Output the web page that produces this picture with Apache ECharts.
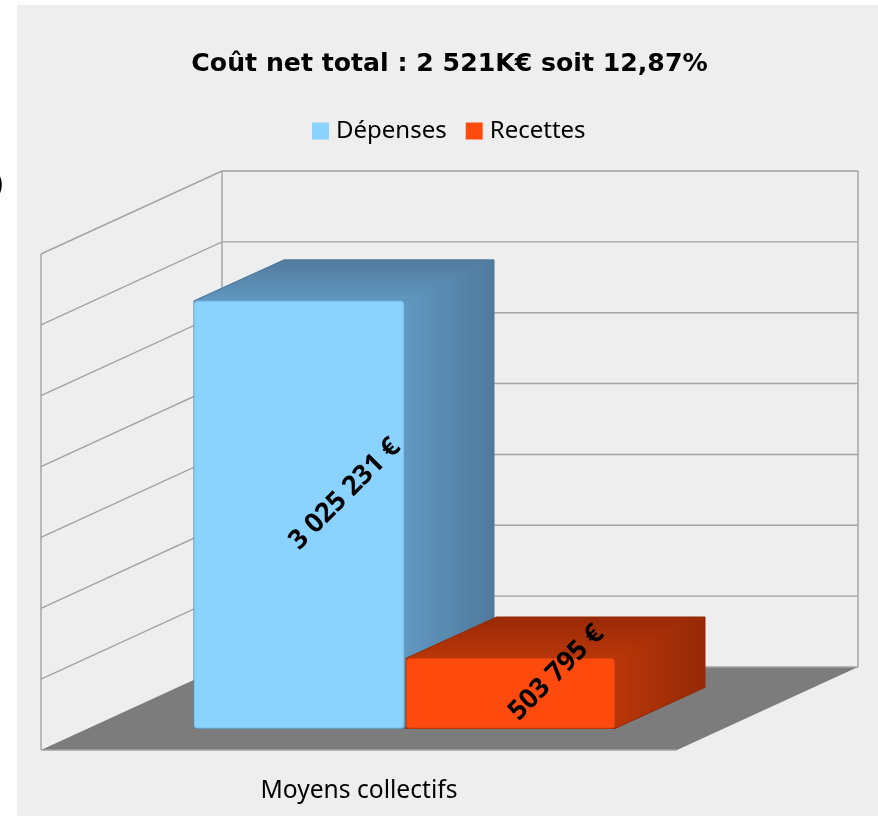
<!DOCTYPE html>
<html><head><meta charset="utf-8">
<style>html,body{margin:0;padding:0;background:#fff}#c{width:878px;height:816px}</style>
<script src="https://cdn.jsdelivr.net/npm/echarts@6/dist/echarts.min.js"></script>
</head><body><div id="c"></div>
<script>
var chartTitle = 'Coût net total : 2 521K€ soit 12,87%';
var categories = ['Moyens collectifs'];
var seriesNames = ['Dépenses', 'Recettes'];
var depenses = [3025231];
var recettes = [503795];
var tickValues = [0, 500000, 1000000, 1500000, 2000000, 2500000, 3000000, 3500000];
var axisMax = 3500000;
var axisInterval = 500000;

var FONT = '"Noto Sans"';
var TITLE_FONT = '"DejaVu Sans"';
var DX = 181, DY = 83;             // depth of the box
var BAR_DX = 90, BAR_DY = 41;      // depth of a bar
var OFF_DY = 22;                   // gap between box front and bar front
var BAR_W = [209, 208];
var BAR_X = [153.5, 365.5];        // front-left of each bar from the grid's left edge
var INSET = 2;
var GRID_LINE = '#a3a3a3';

function fmt(v) { return String(v).replace(/\B(?=(\d{3})+$)/g, ' ') + ' €'; }
function lg(x, y, x2, y2, a, b) {
  return new echarts.graphic.LinearGradient(x, y, x2, y2, [{offset: 0, color: a}, {offset: 1, color: b}]);
}

function renderWall(params, api) {
  var v = api.value(0);
  var c = params.coordSys;
  var y = api.coord([0, v])[1];
  var x0 = c.x, x1 = c.x + c.width;
  var kids = [];
  var ls = {stroke: GRID_LINE, lineWidth: 1.4};
  if (v === 0) {
    kids.push({type: 'polygon', shape: {points: [[x0, y], [x0 + DX, y - DY], [x1 + DX, y - DY], [x1, y]]},
      style: {fill: '#7c7c7c'}});
    kids.push({type: 'line', shape: {x1: x0, y1: y, x2: x1, y2: y}, style: ls});
    kids.push({type: 'line', shape: {x1: x0 + DX, y1: y - DY, x2: x1 + DX, y2: y - DY}, style: ls});
    kids.push({type: 'line', shape: {x1: x0, y1: y, x2: x0, y2: c.y}, style: ls});
    kids.push({type: 'line', shape: {x1: x0 + DX, y1: y - DY, x2: x0 + DX, y2: c.y - DY}, style: ls});
    kids.push({type: 'line', shape: {x1: x1 + DX, y1: y - DY, x2: x1 + DX, y2: c.y - DY}, style: ls});
  } else {
    kids.push({type: 'polyline', shape: {points: [[x0, y], [x0 + DX, y - DY], [x1 + DX, y - DY]]},
      style: {fill: 'none', stroke: ls.stroke, lineWidth: ls.lineWidth}});
  }
  return {type: 'group', children: kids};
}

function barRenderer(idx, colors) {
  return function (params, api) {
    var c = params.coordSys;
    var v = api.value(1);
    var base = api.coord([0, 0])[1] - OFF_DY;
    var top = api.coord([0, v])[1] - OFF_DY + INSET;
    var xl = c.x + BAR_X[idx], xr = xl + BAR_W[idx];
    var cx = (xl + xr + BAR_DX) / 2, cy = (top - BAR_DY + base) / 2;
    return {type: 'group', children: [
      {type: 'polygon', shape: {points: [[xl, top], [xl + BAR_DX, top - BAR_DY], [xr + BAR_DX, top - BAR_DY], [xr + BAR_DX, base - BAR_DY], [xr, base], [xl, base]]},
        style: {fill: colors.sideB, stroke: colors.sideB, lineWidth: 2, lineJoin: 'round'}},
      {type: 'polygon', shape: {points: [[xr, top], [xr + BAR_DX, top - BAR_DY], [xr + BAR_DX, base - BAR_DY], [xr, base]]},
        style: {fill: lg(0, 0, 1, 0, colors.sideA, colors.sideB)}},
      {type: 'polygon', shape: {points: [[xl, top], [xl + BAR_DX, top - BAR_DY], [xr + BAR_DX, top - BAR_DY], [xr, top]]},
        style: {fill: lg(0, 0, 0, 1, colors.topA, colors.topB)}},
      {type: 'rect', shape: {x: xl, y: top, width: BAR_W[idx], height: base - top, r: 3},
        style: {fill: colors.front, stroke: colors.edge, lineWidth: 1.2}},
      {type: 'text', x: cx + 1, y: cy, rotation: Math.PI / 4,
        style: {text: fmt(v), align: 'center', verticalAlign: 'middle', fill: '#000',
          font: 'bold 27px ' + FONT}}
    ]};
  };
}

var blue = {front: '#8ad2ff', edge: '#7fc2ec', sideA: '#6198c1', sideB: '#4f7a9c', topA: '#527b9d', topB: '#6198c1'};
var red = {front: '#ff4a0e', edge: '#e0420c', sideA: '#ba3609', sideB: '#952a06', topA: '#982a06', topB: '#ba3609'};

var chart = echarts.init(document.getElementById('c'), null, {renderer: 'canvas'});
chart.setOption({
  animation: false,
  backgroundColor: '#ffffff',
  graphic: [
    {type: 'rect', z: -10, shape: {x: 17, y: 5, width: 861, height: 811}, style: {fill: '#eeeeee'}},
    {type: 'text', z: -10, x: -6, y: 172, style: {text: ')', font: 'bold 26px ' + FONT, fill: '#000'}}
  ],
  title: {text: chartTitle, left: 444.5, top: 47, textAlign: 'center',
    textStyle: {fontFamily: TITLE_FONT, fontWeight: 'bold', fontSize: 25.2, color: '#000'}},
  legend: {data: seriesNames, top: 114, left: 307, icon: 'rect', itemWidth: 17, itemHeight: 17, itemGap: 19,
    textStyle: {fontFamily: FONT, fontSize: 24, color: '#000', padding: [0, 0, 0, 2]}},
  grid: {left: 41, right: 201, top: 254, bottom: 66},
  xAxis: {type: 'category', data: categories, axisTick: {show: false}, axisLine: {show: false},
    axisLabel: {fontFamily: FONT, fontSize: 24.6, color: '#000', margin: 28}},
  yAxis: {type: 'value', min: 0, max: axisMax, interval: axisInterval,
    axisLabel: {show: false}, axisTick: {show: false}, axisLine: {show: false}, splitLine: {show: false}},
  series: [
    {type: 'custom', name: 'walls', silent: true, renderItem: renderWall, data: tickValues, z: 1,
      encode: {y: 0}, coordinateSystem: 'cartesian2d'},
    {type: 'custom', name: seriesNames[0], itemStyle: {color: blue.front}, renderItem: barRenderer(0, blue), z: 2,
      data: depenses.map(function (v, i) { return [i, v]; })},
    {type: 'custom', name: seriesNames[1], itemStyle: {color: red.front}, renderItem: barRenderer(1, red), z: 3,
      data: recettes.map(function (v, i) { return [i, v]; })}
  ]
});
</script></body></html>
